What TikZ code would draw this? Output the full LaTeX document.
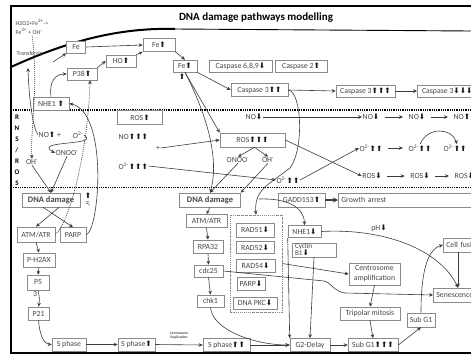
\documentclass[tikz,border=0pt]{standalone}
\usepackage{fontspec}
\setmainfont{Carlito}
\newfontfamily\symfont{DejaVu Sans}
\usepackage{tikz}
\usetikzlibrary{arrows.meta}
\definecolor{pathline}{HTML}{3d3d3d}
\definecolor{boxedge}{HTML}{8a8a8a}
\definecolor{labeltext}{HTML}{474747}
\definecolor{markdark}{HTML}{1a1a1a}
\newcommand{\boxfont}{\fontsize{7.8}{8.2}\selectfont}
\newcommand{\upar}{{\symfont\fontsize{7.6}{7.6}\selectfont\color{markdark}⬆}}
\newcommand{\dnar}{{\symfont\fontsize{7.6}{7.6}\selectfont\color{markdark}⬇}}
\newcommand{\sps}[1]{\textsuperscript{#1}}

\begin{document}
\begin{tikzpicture}[x=1pt, y=-1pt, font=\boxfont, text=labeltext,
  bx/.style={draw=boxedge, fill=white, line width=0.6pt, inner sep=1pt, minimum height=13pt},
  tx/.style={inner sep=0.5pt},
  ar/.style={-{Stealth[length=4pt,width=3.6pt]}, draw=pathline, line width=0.6pt},
  rowar/.style={ar, shorten <=5pt, shorten >=5pt},
  bigar/.style={ar, line width=1.4pt, -{Stealth[length=5pt,width=5pt]}},
  dotar/.style={ar, dash pattern=on 1pt off 1pt},
  sepline/.style={line width=1.1pt, dash pattern=on 1pt off 0.8pt},
  frameline/.style={line width=2pt, black}]
\useasboundingbox (0,0) rectangle (471,354);
\clip (0,0) rectangle (471,354);
\fill[white] (0,0) rectangle (471,354);

% frame, title bar, membrane
\draw[frameline] (471,6) -- (11,6) -- (11,352.5) -- (471,352.5);
\draw[line width=2pt] (11,67) .. controls (55,47) and (110,27) .. (175,29);
\draw[line width=0.9pt] (175,29) -- (471,31);
\node[font=\fontsize{11}{12}\selectfont\bfseries, text=black] (title) at (256,18) {DNA damage pathways modelling};

% compartment borders
\draw[sepline] (11,110) -- (471,110);
\draw[sepline] (11,187.5) -- (471,187.5);

% ---- cytoplasm / iron ----
\node[tx, anchor=north west, align=left, font=\fontsize{6}{9}\selectfont] (fenton) at (15,19) {H2O2+Fe\sps{2+}->\\Fe\sps{3+} + OH'};
\node[tx, anchor=west, font=\fontsize{6}{7}\selectfont] (trf) at (16,53) {Transferrin};

\node[bx, minimum width=19pt, minimum height=12pt] (fe) at (76,47) {Fe};
\node[bx, minimum width=32pt] (feup) at (159,45) {Fe\upar};
\node[bx, minimum width=30pt, minimum height=12pt] (ho) at (121,61) {HO\upar};
\node[bx, minimum width=30pt, minimum height=12pt] (ptt) at (82,74) {P38\upar};
\node[bx, minimum width=36pt] (nhe) at (51,103.5) {NHE1 \upar};
\node[bx, minimum width=24pt, minimum height=12pt] (fein) at (185,66) {Fe\upar};
\node[tx] (feinx) at (182,77) {\upar};
\node[bx, minimum width=63pt, minimum height=12pt] (csn) at (240.5,66) {Caspase 6,8,9\dnar};
\node[bx, minimum width=52pt, minimum height=12pt] (cst) at (301,66) {Caspase 2\upar};
\node[bx, minimum width=57pt] (csa) at (259.5,90) {Caspase 3\upar\upar};
\node[bx, minimum width=59pt, minimum height=12pt] (csb) at (365.5,91) {Caspase 3\upar\upar\upar};
\node[bx, minimum width=60pt, minimum height=12pt, anchor=west] (csc) at (417,91) {Caspase 3\dnar\dnar\dnar};

% ---- RNS / ROS ----
\node[tx, align=center, font=\fontsize{7}{11}\selectfont\bfseries, text=black] (rns) at (17,150) {R\\N\\S\\/\\R\\O\\S};
\node[tx] (noa) at (47,135) {NO\upar};
\node[tx] (pla) at (59,135) {+};
\node[tx] (oxa) at (78,135) {O\sps{2-}};
\node[tx] (ona) at (67,153) {ONOO\sps{-}};
\node[tx] (oha) at (32,162) {OH\sps{·}};

\node[bx, minimum width=45pt, minimum height=14pt] (rsa) at (140,117.5) {ROS\upar};
\node[tx, anchor=west] (nott) at (118,137) {NO\upar\upar\upar};
\node[tx] (plb) at (158,148) {+};
\node[tx, anchor=west] (oxt) at (118,166) {O\sps{2-}\upar\upar\upar};
\node[bx, minimum width=65pt, minimum height=14pt] (rst) at (252.5,140) {ROS\upar\upar\upar};
\node[tx] (onb) at (238,160) {ONOO\sps{-}};
\node[tx] (ohb) at (268,160) {OH\sps{·}};
\node[tx] (oxm) at (288,180) {O\sps{2-}\upar\upar};

\node[tx] (nod1) at (254,117) {NO\dnar};
\node[tx] (nod2) at (371,117) {NO\dnar};
\node[tx] (nod3) at (417,117) {NO\dnar};
\node[tx, anchor=west] (nou4) at (453,117) {NO\upar};
\node[tx] (oxr1) at (371,148) {O\sps{2-}\upar\upar};
\node[tx] (oxr2) at (420,148) {O\sps{2-}\upar\upar};
\node[tx, anchor=west] (oxr3) at (443,148) {O\sps{2-}\upar\upar};
\node[tx] (rsr1) at (372,176) {ROS\dnar};
\node[tx] (rsr2) at (420,176) {ROS\dnar};
\node[tx, anchor=west] (rsr3) at (454,176) {ROS\dnar};

% ---- nucleus ----
\node[bx, minimum width=58pt, minimum height=14pt, font=\fontsize{8.5}{9}\selectfont\bfseries] (dnl) at (51,200) {DNA damage};
\node[tx, font=\fontsize{5}{5}\selectfont] (hpa) at (88,196) {\upar};
\node[tx, rotate=-90, font=\fontsize{5.5}{6}\selectfont] (hpb) at (88,204) {H\sps{+}};
\node[bx, minimum width=38pt, minimum height=15pt] (atl) at (36,234.5) {ATM/ATR};
\node[bx, minimum width=26pt, minimum height=15pt] (prl) at (73,235) {PARP};
\node[bx, minimum width=32pt, minimum height=14pt] (phx) at (39,260) {P-H2AX};
\node[bx, minimum width=22pt, minimum height=15pt] (pfv) at (38,282.5) {P5};
\node[tx] (pfvx) at (35,293.5) {3};
\node[bx, minimum width=21pt] (ptw) at (38.5,313.5) {P21};
\node[bx, minimum width=34pt] (spa) at (69,344.5) {S phase};
\node[bx, minimum width=37pt] (spb) at (136.5,344.5) {S phase\upar};
\node[bx, minimum width=47pt] (spc) at (226.5,345) {S phase\upar\upar};
\node[tx, align=center, font=\fontsize{3.6}{4}\selectfont\bfseries] (cdup) at (179,336) {Centrosome\\Duplication};

\node[bx, minimum width=61pt, minimum height=14pt, font=\fontsize{8.5}{9}\selectfont\bfseries] (dnc) at (210,200) {DNA damage};
\node[bx, minimum width=47pt, minimum height=14pt] (gad) at (301.5,200) {GADD153\upar};
\node[bx, minimum height=14pt, text width=131pt, align=left, anchor=west, inner sep=3pt] (gro) at (338,200) {Growth arrest};
\node[bx, minimum width=41pt] (atc) at (206.5,221) {ATM/ATR};
\node[bx, minimum width=30pt] (rpa) at (208,246.5) {RPA32};
\node[bx, minimum width=29pt, minimum height=12pt] (cdc) at (208.5,271) {cdc25};
\node[bx, minimum width=27pt, minimum height=12pt] (chk) at (210.5,301) {chk1};

\node[draw=boxedge, dash pattern=on 1.5pt off 1pt on 0.4pt off 1pt, line width=0.6pt, minimum width=52pt, minimum height=97pt] (rad) at (256,263.5) {};
\node[bx, minimum width=38pt, minimum height=14pt] (rfo) at (255,230) {RAD51\dnar};
\node[bx, minimum width=38pt, minimum height=12pt] (rft) at (255,247.5) {RAD52\dnar};
\node[bx, minimum width=39pt] (rff) at (255.5,265.5) {RAD54\dnar};
\node[bx, minimum width=28pt] (prc) at (251,283.5) {PARP\dnar};
\node[bx, minimum width=44pt, minimum height=12pt] (pkc) at (255,303) {DNA PKC\dnar};

\node[bx, minimum width=33pt, minimum height=12pt] (nhd) at (304.5,231.5) {NHE1\dnar};
\node[bx, minimum width=44pt, minimum height=14pt, text width=38pt, align=left, font=\fontsize{7.2}{7}\selectfont] (cyc) at (314,250) {Cyclin\\B1\dnar};
\node[bx, minimum width=40pt] (gtd) at (310,345) {G2-Delay};
\node[bx, minimum width=50pt] (sgt) at (373,345) {Sub G1\upar\upar\upar};
\node[bx, minimum width=28pt, minimum height=14pt] (sgo) at (421,320) {Sub G1};
\node[bx, minimum width=60pt] (tri) at (370,313.5) {Tripolar mitosis};
\node[bx, minimum width=51pt, minimum height=22pt, align=center, font=\fontsize{7.8}{10}\selectfont] (cen) at (374.5,274) {Centrosome\\amplification};
\node[bx, minimum height=14pt, anchor=west, text width=54pt, align=left, inner sep=3pt] (sen) at (433,295) {Senescence};
\node[bx, minimum height=14pt, anchor=west, text width=44pt, align=left, inner sep=3pt] (cfu) at (443,245) {Cell fusion};
\node[tx] (phl) at (379,228) {pH\dnar};

% ---- connectors: iron / caspases ----
\coordinate (tfin) at (53,62);
\coordinate (trfup) at (28,68);
\draw[ar] (tfin) -- (fe.south west);
\draw[ar] (fe.east) -- (feup.west);
\draw[ar] (ho.north east) -- (feup.south west);
\draw[ar] (ptt.north east) -- (ho.west);
\draw[ar] (nhe.north) .. controls (49,82) and (55,74) .. (ptt.west);
\draw[ar] (feup.south east) -- (fein.north);
\draw[ar] (fein.south east) -- (csa.west);
\draw[ar] (csa.east) -- (csb.west);
\draw[ar] (csb.east) -- (csc.west);
\draw[ar] (fein.south) -- (rst.north west);
\draw[ar] (fein.south) .. controls (212,125) and (218,165) .. (dnc.north);
\draw[ar] (csa.east) .. controls (302,92) and (304,150) .. (290,168) .. controls (268,185) and (254,190) .. (rad.north);
\coordinate (cbr) at (259,199);
\draw[ar] (cbr) .. controls (285,198) and (304,206) .. (nhd.north);

% ---- connectors: RNS / ROS ----
\draw[ar] (noa.west) .. controls (33,128) and (29,100) .. (trfup);
\draw[dotar] (fenton.south) .. controls (39,90) and (30,130) .. (oha.north);
\draw[ar] (oxa.east) .. controls (102,146) and (32,140) .. (ona.west);
\draw[ar] (oha.south) -- (dnl.north);
\draw[ar] (ona.south) -- (dnl.north);
\draw[ar] ([xshift=-8pt]dnl.south) -- (prl.north);
\draw[ar] ([xshift=8pt]dnl.south) -- (atl.north);
\draw[ar] (prl.east) .. controls (100,228) and (108,112) .. (nhe.east);
\draw[dotar] (atl.east) .. controls (70,222) and (88,150) .. ([xshift=8pt]ptt.south);

\draw[ar] (plb.east) -- (rst.west);
\draw[ar] (oxt.east) -- (oxm.west);
\draw[ar] ([xshift=2pt]rst.south) -- (onb.north);
\draw[ar] ([xshift=2pt]rst.south) -- (ohb.north);
\draw[ar] (onb.south) -- (dnc.north);
\draw[ar] (ohb.south) -- (dnc.north east);
\draw[ar] (rst.east) -- (rsr1.west);
\draw[ar] (oxm.east) -- (oxr1.west);
\draw[ar] (nod1.east) -- (nod2.west);
\draw[rowar] (nod2.east) -- (nod3.west);
\draw[rowar] (nod3.east) -- (nou4.west);
\draw[rowar] (oxr1.east) -- (oxr2.west);
\draw[ar] (oxr2.north) .. controls (428,126) and (452,128) .. ([xshift=14pt]oxr3.north west);
\draw[rowar] (rsr1.east) -- (rsr2.west);
\draw[rowar] (rsr2.east) -- (rsr3.west);

% ---- connectors: nucleus ----
\draw[bigar] (gad.east) -- (gro.west);
\draw[ar] (atl.south) -- (phx.north);
\draw[ar] (phx.south) -- (pfv.north);
\draw[ar] (pfv.south) to[bend left=12] (ptw.north);
\draw[ar] (ptw.south) .. controls (40,338) and (45,344) .. (spa.west);
\draw[ar, line width=0.9pt] (spa.east) -- (spb.west);
\draw[ar] (spb.east) -- (spc.west);
\draw[ar, line width=0.9pt] (spc.east) -- (gtd.west);

\draw[ar] (dnc.south) -- (atc.north);
\draw[ar] (atc.south) -- (rpa.north);
\draw[ar] (rpa.south) -- (cdc.north);
\draw[ar] (cdc.south) -- (chk.north);
\draw[ar] (chk.south) .. controls (212,330) and (255,345) .. (gtd.west);
\draw[ar] (cdc.east) -- (324,281) .. controls (332,283) and (333,291) .. (345,293) -- (sen.west);
\draw[ar] (rad.east) -- (cen.west);

\draw[ar] (nhd.south west) -- (gtd.north west);
\draw[ar] (cyc.south) -- (gtd.north);
\draw[ar] (nhd.east) .. controls (385,228) and (440,250) .. ([xshift=25pt]sen.north west);
\draw[ar] (gtd.east) -- (sgt.west);
\draw[ar] (sgt.east) -- (sgo.south);
\draw[ar] (sgo.north) .. controls (421,280) and (425,250) .. (cfu.west);
\draw[ar] ([xshift=15pt]cfu.south west) -- ([xshift=25pt]sen.north west);
\draw[ar] (cen.south) -- (tri.north);
\draw[ar] (tri.south) -- (sgt.north);

\end{tikzpicture}
\end{document}
